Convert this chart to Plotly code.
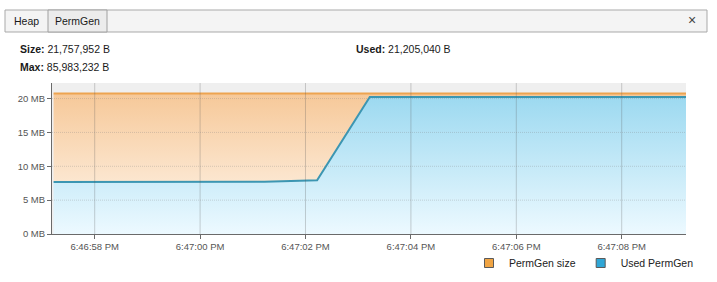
import plotly.graph_objects as go

# ---------------- data ----------------
times = [
    "2013-01-01 18:46:57.22", "2013-01-01 18:46:58.22", "2013-01-01 18:46:59.22",
    "2013-01-01 18:47:00.22", "2013-01-01 18:47:01.22", "2013-01-01 18:47:02.22",
    "2013-01-01 18:47:03.22", "2013-01-01 18:47:04.22", "2013-01-01 18:47:05.22",
    "2013-01-01 18:47:06.22", "2013-01-01 18:47:07.22", "2013-01-01 18:47:08.22",
    "2013-01-01 18:47:09.22",
]
permgen_size_mb = [20.75] * 13
used_permgen_mb = [7.68, 7.68, 7.68, 7.68, 7.70, 7.93, 20.22, 20.22, 20.22, 20.22, 20.22, 20.22, 20.22]

x_tickvals = ["2013-01-01 18:46:58", "2013-01-01 18:47:00", "2013-01-01 18:47:02",
              "2013-01-01 18:47:04", "2013-01-01 18:47:06", "2013-01-01 18:47:08"]
x_ticktext = ["6:46:58 PM", "6:47:00 PM", "6:47:02 PM", "6:47:04 PM", "6:47:06 PM", "6:47:08 PM"]
y_tickvals = [0, 5, 10, 15, 20]
y_ticktext = ["0 MB", "5 MB", "10 MB", "15 MB", "20 MB"]

size_bytes = 21757952
max_bytes = 85983232
used_bytes = 21205040

# ---------------- layout geometry ----------------
W, H = 717, 282
L, R, T, B = 52, 686, 83, 234


def px(xp):
    return (xp - L) / (R - L)


def py(yp):
    return (B - yp) / (B - T)


FONT = "Liberation Sans, Arial, sans-serif"
ORANGE_LINE = "#eda450"
BLUE_LINE = "#3c96b2"

fig = go.Figure()

fig.add_trace(go.Scatter(
    x=times, y=used_permgen_mb, mode="lines", name="Used PermGen",
    line=dict(color=BLUE_LINE, width=2),
    fill="tozeroy",
    fillgradient=dict(type="vertical", colorscale=[[0, "#ecf9ff"], [1, "#9cd9f0"]],
                      start=0, stop=max(used_permgen_mb)),
    showlegend=False, hoverinfo="skip",
))
fig.add_trace(go.Scatter(
    x=times, y=permgen_size_mb, mode="lines", name="PermGen size",
    line=dict(color=ORANGE_LINE, width=2),
    fill="tonexty",
    fillgradient=dict(type="vertical", colorscale=[[0, "#fff8f0"], [1, "#f6c898"]],
                      start=0, stop=max(permgen_size_mb)),
    showlegend=False, hoverinfo="skip",
))

# legend-only entries
fig.add_trace(go.Scatter(
    x=[None], y=[None], mode="markers", name="PermGen size",
    marker=dict(symbol="square", size=9, color="#f0a443", line=dict(color="#5a5a5a", width=1)),
))
fig.add_trace(go.Scatter(
    x=[None], y=[None], mode="markers", name="Used PermGen",
    marker=dict(symbol="square", size=9, color="#2fa6d6", line=dict(color="#5a5a5a", width=1)),
))

shapes = []
# grid lines drawn above the filled areas
for tv in x_tickvals:
    shapes.append(dict(type="line", xref="x", yref="paper", x0=tv, x1=tv, y0=0, y1=1,
                       line=dict(color="rgba(90,90,90,0.28)", width=1), layer="above"))
for yv in y_tickvals[1:]:
    shapes.append(dict(type="line", xref="paper", yref="y", x0=0, x1=1, y0=yv, y1=yv,
                       line=dict(color="rgba(130,130,130,0.30)", width=1, dash="1px,1px"),
                       layer="above"))

# tab bar
shapes.append(dict(type="rect", xref="paper", yref="paper",
                   x0=px(5), x1=px(707), y0=py(32), y1=py(10),
                   fillcolor="#f4f4f4", line=dict(color="#a9a9a9", width=1), layer="above"))
shapes.append(dict(type="rect", xref="paper", yref="paper",
                   x0=px(48), x1=px(107), y0=py(32), y1=py(10),
                   fillcolor="#ececec", line=dict(color="#a0a0a0", width=1), layer="above"))

annotations = [
    dict(text="Heap", x=px(26), y=py(21)),
    dict(text="PermGen", x=px(77), y=py(21)),
    dict(text="×", x=px(692), y=py(20), font=dict(size=14, color="#444", family=FONT)),
    dict(text=f"<b>Size:</b> {size_bytes:,} B", x=px(18), y=py(49), xanchor="left"),
    dict(text=f"<b>Max:</b> {max_bytes:,} B", x=px(18), y=py(67), xanchor="left"),
    dict(text=f"<b>Used:</b> {used_bytes:,} B", x=px(354), y=py(49), xanchor="left"),
]
for a in annotations:
    a.setdefault("xanchor", "center")
    a.update(xref="paper", yref="paper", yanchor="middle", showarrow=False)
    a.setdefault("font", dict(size=10.5, color="#1a1a1a", family=FONT))

fig.update_layout(
    width=W, height=H,
    margin=dict(l=L, r=W - R, t=T, b=H - B, pad=0, autoexpand=False),
    paper_bgcolor="white",
    plot_bgcolor="#efefef",
    font=dict(family=FONT, size=9.5, color="#555"),
    shapes=shapes,
    annotations=annotations,
    legend=dict(orientation="h", x=px(699), xanchor="right", y=py(263), yanchor="middle",
                font=dict(size=10.5, color="#222", family=FONT), traceorder="normal",
                itemwidth=30, bgcolor="rgba(0,0,0,0)", tracegroupgap=0),
    xaxis=dict(
        type="date",
        range=["2013-01-01 18:46:57.19", "2013-01-01 18:47:09.22"],
        tickvals=x_tickvals, ticktext=x_ticktext,
        showgrid=False, zeroline=False,
        showline=True, linecolor="#6a6a6a", linewidth=1,
        ticks="outside", ticklen=4, tickcolor="#6a6a6a",
        tickfont=dict(size=9.5, color="#555"),
        fixedrange=True, automargin=False,
    ),
    yaxis=dict(
        range=[0, 22.3],
        tickvals=y_tickvals, ticktext=y_ticktext,
        showgrid=False, zeroline=False,
        showline=True, linecolor="#6a6a6a", linewidth=1,
        ticks="outside", ticklen=4, tickcolor="#6a6a6a",
        tickfont=dict(size=9.5, color="#555"),
        fixedrange=True, automargin=False,
    ),
)

fig.write_html("out.html", config={"displayModeBar": False})
